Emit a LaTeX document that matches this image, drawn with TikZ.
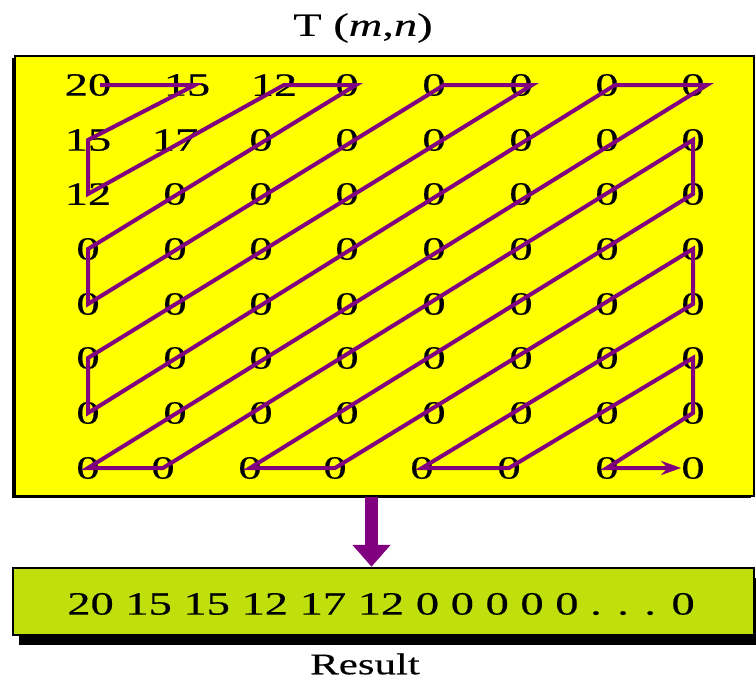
\documentclass[tikz,border=0pt]{standalone}
\usepackage{fontspec}
\setmainfont{Liberation Serif}[FakeStretch=1.43, FakeBold=0.4]
\usepackage{tikz}
\usetikzlibrary{arrows.meta,positioning,shadows}
\definecolor{cmat}{HTML}{FFFF00}
\definecolor{cres}{HTML}{C0E00E}
\definecolor{cpath}{HTML}{800080}
\tikzset{
  bigtxt/.style={font=\fontsize{32.5}{38}\selectfont, inner sep=0pt},
  num/.style={bigtxt},
  matbox/.style={draw=black, fill=cmat, line width=2.5pt, minimum width=739pt,
                 minimum height=440pt, inner sep=0pt,
                 drop shadow={shadow xshift=-3pt, shadow yshift=-2pt, fill=black, opacity=1}},
  resbox/.style={draw=black, fill=cres, line width=2.5pt, minimum width=741pt,
                 minimum height=67pt, inner sep=0pt,
                 drop shadow={shadow xshift=6pt, shadow yshift=-10pt, fill=black, opacity=1}},
  zigzag/.style={draw=cpath, line width=4pt, -{Stealth[length=20pt, width=14pt]}},
  down/.style={draw=cpath, line width=13pt, -{Triangle[length=22pt, width=37pt]}},
}
\begin{document}
\begin{tikzpicture}[x=1pt, y=-1pt]
  \useasboundingbox (0,0) rectangle (756,681);
  % table and result boxes
  \node[matbox] (mat) at (384.5,276) {};
  \node[resbox] (res) at (383.5,601.5) {};
  \node[bigtxt] (ttl) at (363,28) {T (\textit{m},\textit{n})};
  \node[bigtxt, font=\fontsize{30}{36}\selectfont] (lbl) at (365,664) {Result};
  % the coefficients
  \foreach \r/\y/\cells in {
    1/85/{88/20,187/15,274/12,347/0,434/0,521/0,607/0,693/0},
    2/140/{88/15,175/17,261/0,347/0,434/0,521/0,607/0,693/0},
    3/194/{88/12,175/0,261/0,347/0,434/0,521/0,607/0,693/0},
    4/249/{88/0,175/0,261/0,347/0,434/0,521/0,607/0,693/0},
    5/304/{88/0,175/0,261/0,347/0,434/0,521/0,607/0,693/0},
    6/358/{88/0,175/0,261/0,347/0,434/0,521/0,607/0,693/0},
    7/413/{88/0,175/0,261/0,347/0,434/0,521/0,607/0,693/0},
    8/468/{88/0,163/0,250/0,335/0,422/0,509/0,607/0,693/0}}
    \foreach \x/\v [count=\c] in \cells
      \node[num] (n\r\c) at (\x,\y) {\v};
  % zigzag scan
  \draw[zigzag] ([xshift=12pt]n11.center) -- ([xshift=8pt]n12.center) -- (n21.center)
    -- (n31.center) -- ([xshift=10pt]n13.center) -- ([xshift=9pt]n14.center)
    -- (n41.center) -- (n51.center) -- ([xshift=10pt]n15.center)
    -- ([xshift=11pt]n16.center) -- (n61.center) -- (n71.center)
    -- ([xshift=8pt]n17.center) -- ([xshift=14pt]n18.center) -- (n81.center)
    -- (n82.center) -- (n28.center) -- (n38.center) -- (n83.center)
    -- (n84.center) -- (n48.center) -- (n58.center) -- (n85.center)
    -- (n86.center) -- (n68.center) -- (n78.center) -- (n87.center) -- (n88);
  \draw[down] ([xshift=-13pt]mat.south) -- ([xshift=-12pt]res.north);
  \node[bigtxt] (seq) at (381,604) {20 15 15 12 17 12 0 0 0 0 0 . . . 0};
\end{tikzpicture}
\end{document}
